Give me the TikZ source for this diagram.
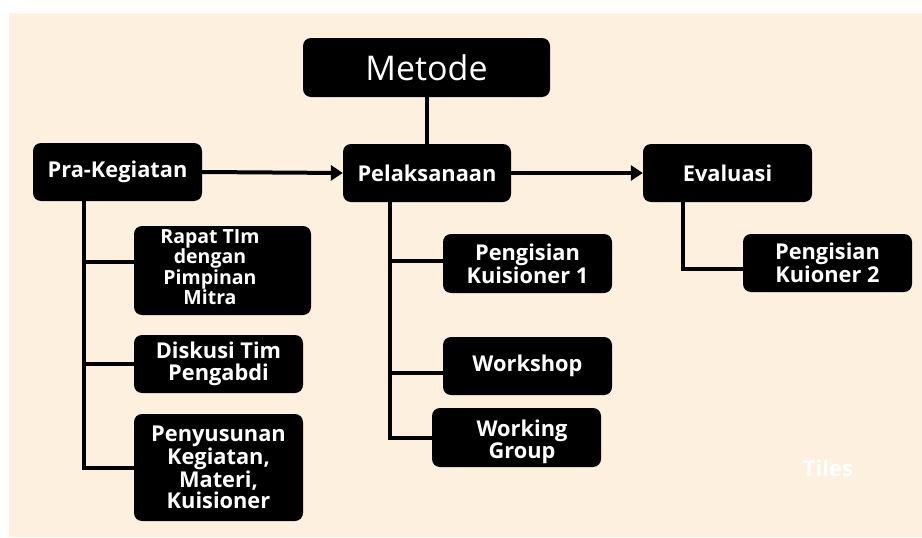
\documentclass[tikz,border=0pt]{standalone}
\usepackage{fontspec}
\setmainfont{Open Sans}
\usetikzlibrary{arrows.meta,calc}
\definecolor{peach}{RGB}{253,240,223}
\begin{document}
\begin{tikzpicture}[x=1pt,y=-1pt,
  box/.style={fill=black, rounded corners=8pt, inner sep=0pt, text=white,
    font=\bfseries\fontsize{21.8}{21.5}\selectfont, align=center},
  txt/.style={inner sep=0pt, text=white, align=center,
    font=\bfseries\fontsize{21.8}{21.5}\selectfont},
  conn/.style={line width=4pt},
  arr/.style={line width=4pt, -{Triangle[length=12pt,width=15pt]}}]
\useasboundingbox (0,0) rectangle (922,538);
\fill[white] (0,0) rectangle (922,538);
\fill[peach] (9,13) rectangle (922,537);

% top
\node[box, minimum width=247pt, minimum height=59pt,
      font=\fontsize{34}{40}\selectfont] (metode) at (426.5,67.5) {Metode};
\node[box, minimum width=169pt, minimum height=58pt] (pra) at (117.5,172) {Pra-Kegiatan};
\node[box, minimum width=168pt, minimum height=58pt] (pel) at (427,173) {Pelaksanaan};
\node[box, minimum width=169pt, minimum height=58pt] (eval) at (727.5,173) {Evaluasi};

% pra-kegiatan children
\node[box, minimum width=177pt, minimum height=89pt] (rapat) at (222.5,270.5) {};
\node[txt, font=\bfseries\fontsize{19.5}{18.5}\selectfont] (rapatt) at (210,267) {Rapat TIm\\dengan\\Pimpinan\\Mitra};
\node[box, minimum width=169pt, minimum height=58pt] (disk) at (218.5,364) {Diskusi Tim\\Pengabdi};
\node[box, minimum width=169pt, minimum height=107pt] (pen) at (218.5,467.5) {Penyusunan\\Kegiatan,\\Materi,\\Kuisioner};

% pelaksanaan children
\node[box, minimum width=169pt, minimum height=59pt] (pk1) at (527.5,263.5) {Pengisian\\Kuisioner 1};
\node[box, minimum width=169pt, minimum height=58pt] (ws) at (527.5,366) {Workshop};
\node[box, minimum width=169pt, minimum height=59pt] (wg) at (516.5,437.5) {};
\node[txt] (wgt) at (522,442) {Working\\Group};

% evaluasi child
\node[box, minimum width=169pt, minimum height=58pt] (pk2) at (827.5,263) {Pengisian\\Kuioner 2};

% watermark
\node[txt, font=\bfseries\fontsize{22}{22}\selectfont, text=white] (tiles) at (828,468) {Tiles};

% connectors
\draw[conn] (metode.south) -- (metode.south |- pel.north);
\draw[arr] (pra.east) -- (pel.west);
\draw[arr] (pel.east) -- (eval.west);

\coordinate (pa) at (84,262);
\coordinate (pb) at (84,364);
\coordinate (pc) at (84,468);
\draw[conn] (pa |- pra.south) -- (pc) -- (pc -| pen.west);
\draw[conn] (pa) -- (pa -| rapat.west);
\draw[conn] (pb) -- (pb -| disk.west);

\coordinate (qa) at (390,261);
\coordinate (qb) at (390,373);
\coordinate (qc) at (390,438);
\draw[conn] (qa |- pel.south) -- (qc) -- (qc -| wg.west);
\draw[conn] (qa) -- (qa -| pk1.west);
\draw[conn] (qb) -- (qb -| ws.west);

\coordinate (ra) at (683,269);
\draw[conn] (ra |- eval.south) -- (ra) -- (ra -| pk2.west);
\end{tikzpicture}
\end{document}
